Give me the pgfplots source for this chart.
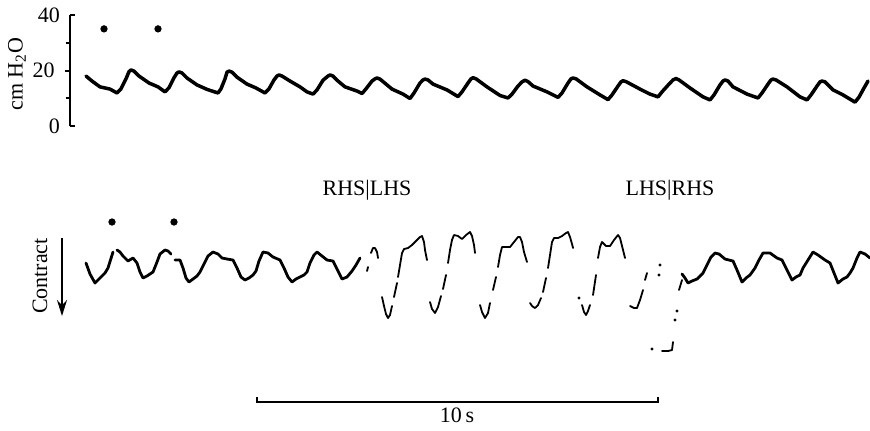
\documentclass[border=0pt]{standalone}
\usepackage{pgfplots}
\pgfplotsset{compat=1.18}
\usepackage{fontspec}
\setmainfont{Liberation Serif}
\usetikzlibrary{arrows.meta}

\begin{document}
\begin{tikzpicture}
\useasboundingbox (0,0) rectangle (435pt,215pt);
\pgfplotsset{
  trace/.style={black, line join=round, line cap=round},
  slow/.style={trace, line width=1.4pt},
  fast/.style={trace, line width=0.9pt},
}

% Sheet for the muscle trace, the time bar and the annotations
\begin{axis}[at={(0,0)}, anchor=south west, scale only axis,
  width=435pt, height=215pt, xmin=0, xmax=870, ymin=0, ymax=430,
  y dir=reverse, hide axis, clip=false, unbounded coords=jump,
  font=\fontsize{11}{13}\selectfont]

% slow, well-inked stretches of the contraction record
\addplot[slow] coordinates {
 (86,263) (90,274) (95,283) (100,278) (105,273) (108,268) (113,252)
 (nan,nan)
 (117,250) (120,252) (123,256) (128,261) (133,258) (137,263) (140,272) (143,278)
 (147,276) (150,274) (153,272) (157,262) (160,254) (165,250) (168,251) (171,254)
 (nan,nan)
 (175,260) (180,260) (183,268) (186,278) (189,282) (193,279) (197,276) (200,272)
 (204,264) (208,256) (213,252) (218,254) (222,258) (227,259) (233,260) (237,268)
 (241,277) (245,280) (249,278) (253,275) (256,271) (259,261) (263,252) (268,253)
 (273,257) (280,260) (284,268) (288,277) (292,282) (296,279) (300,277) (304,275)
 (307,272) (310,263) (314,255) (317,252) (322,256) (327,260) (333,261) (337,269)
 (342,279) (347,277) (352,271) (356,265) (360,258)
 (nan,nan)
 (682,274) (685,278) (688,283) (692,281) (697,279) (703,273) (707,265) (711,257)
 (715,253) (719,254) (725,259) (733,261) (737,270) (742,282) (746,278) (750,275)
 (755,268) (759,260) (763,253) (770,253) (777,258) (782,260) (787,270) (792,280)
 (796,277) (800,275) (803,268) (808,260) (813,252) (818,255) (825,260) (830,263)
 (834,273) (838,283) (843,279) (847,277) (850,273) (853,268) (857,258) (860,252)
 (865,254) (870,258)
};

% fast swings: the pen only inks the slower parts
\addplot[fast] coordinates {
 (367,271) (368,267) (nan,nan)
 (371,253) (373,248) (375,248) (377,252) (378,258)
 (nan,nan)
 (382,297) (384,306) (386,314) (388,318) (390,315) (392,306) (nan,nan)
 (394,297) (397,283) (nan,nan)
 (398,277) (400,265) (402,253) (404,249) (408,248) (412,245) (416,241) (420,237)
 (422,236) (424,242) (425,250) (427,260)
 (nan,nan)
 (430,302) (432,309) (435,313) (438,307) (441,296) (nan,nan)
 (443,289) (446,275) (nan,nan)
 (448,263) (450,250) (452,240) (454,235) (458,236) (462,239) (466,235) (470,232)
 (472,236) (474,245) (475,253)
 (nan,nan)
 (480,305) (482,312) (485,318) (488,313) (490,303) (nan,nan)
 (493,290) (496,277) (nan,nan)
 (498,267) (500,255) (502,247) (506,247) (510,247) (514,242) (518,237) (520,237)
 (522,242) (524,252) (527,262)
 (nan,nan)
 (530,303) (532,306) (535,308) (538,305) (541,298) (nan,nan)
 (543,292) (546,278) (nan,nan)
 (548,268) (550,255) (552,242) (554,238) (558,238) (562,236) (566,233) (568,232)
 (570,237) (572,244) (573,248)
 (nan,nan)
 (582,305) (584,312) (586,315) (588,311) (590,305) (nan,nan)
 (593,295) (596,275) (nan,nan)
 (598,258) (600,247) (602,242) (606,246) (610,246) (614,240) (618,235) (620,238)
 (622,246) (624,254) (625,258)
 (nan,nan)
 (630,306) (634,308) (637,308) (640,300) (643,290) (nan,nan)
 (645,280) (647,273)
 (nan,nan)
 (662,351) (668,351) (672,350) (673,342)
 (nan,nan)
 (679,290) (682,280)
};

% isolated ink dots
\addplot[only marks, mark=*, mark size=0.55pt, black] coordinates {
 (579,298) (660,265) (659,275) (652,349) (675,320) (677,311)
};

% stimulus markers
\addplot[only marks, mark=*, mark size=1.6pt, black] coordinates {
 (112,222) (174,222)
};

% 10 s time bar
\addplot[black, line width=1.1pt] coordinates {
 (257,397) (257,402) (658,402) (658,397)
};

\node[rotate=90] at (axis cs:40,276) {Contract};
\draw[black, line width=1pt, -{Stealth[length=8pt,width=5pt]}]
  (axis cs:62,238) -- (axis cs:62,316);
\node at (axis cs:367,190) {RHS|LHS};
\node at (axis cs:670,190) {LHS|RHS};
\node at (axis cs:457,415) {10\,s};
\node[rotate=90] at (axis cs:17,74) {cm H\textsubscript{2}O};
\end{axis}

% Airway pressure record
\begin{axis}[at={(35pt,152pt)}, anchor=south west, scale only axis,
  width=400pt, height=55.5pt, xmin=70, xmax=870, ymin=0, ymax=40,
  axis x line=none, axis y line*=left, clip=false,
  axis line style={line width=1.2pt},
  ytick={20}, minor ytick={10,30},
  extra y ticks={0,40},
  extra y tick style={tick align=inside},
  tick align=outside,
  major tick length=2.6pt, minor tick length=2.2pt,
  every tick/.style={black, line width=1pt},
  tick label style={font=\fontsize{11}{13}\selectfont},
  yticklabel style={xshift=-1.5pt},
  /pgf/number format/assume math mode=true]

\addplot[trace, line width=1.75pt] coordinates {
 (86,18.0) (92,16.2) (100,14.1) (110,13.3) (117,11.9)
 (121,13.4) (126,17.0) (129,19.6) (131,20.2) (134,19.8) (139,18.0) (149,15.5) (158,14.1) (165,12.3)
 (169,13.8) (174,17.4) (177,19.1) (179,19.5) (182,19.1) (187,17.3) (197,14.8) (207,13.2) (218,11.9)
 (221,13.4) (225,17.0) (227,19.4) (229,19.8) (232,19.4) (237,17.6) (247,15.1) (256,13.7) (265,11.9)
 (269,13.4) (274,16.6) (277,18.0) (279,18.4) (282,18.0) (290,16.2) (300,14.1) (307,12.3) (313,11.5)
 (317,13.0) (323,16.5) (328,18.0) (330,18.4) (333,18.0) (338,16.2) (345,14.1) (357,12.6) (362,11.7)
 (366,13.4) (372,16.2) (375,17.0) (377,17.3) (380,16.9) (386,15.1) (392,13.3) (403,11.5) (410,9.9)
 (414,11.9) (420,15.5) (423,16.6) (425,16.9) (428,16.6) (433,15.1) (447,13.0) (458,10.6)
 (462,12.3) (468,15.5) (471,17.0) (473,17.4) (476,17.0) (487,14.1) (500,11.0) (508,10.1)
 (512,11.5) (518,14.4) (522,15.9) (525,16.5) (528,16.0) (533,14.4) (547,12.3) (558,10.3)
 (562,11.9) (568,15.5) (571,17.0) (573,17.3) (576,17.0) (587,14.1) (600,11.2) (608,9.5)
 (612,11.2) (618,14.4) (621,15.9) (623,16.3) (626,16.0) (640,13.3) (650,11.5) (658,10.5)
 (662,12.3) (669,15.1) (673,16.6) (676,17.1) (679,16.6) (690,13.7) (703,10.5) (710,9.4)
 (714,11.2) (720,14.8) (723,16.2) (725,16.6) (728,16.2) (733,14.1) (747,11.5) (758,10.1)
 (762,11.9) (768,15.1) (771,16.6) (773,16.9) (776,16.6) (787,14.1) (800,10.5) (807,9.4)
 (811,11.2) (817,14.4) (820,15.9) (822,16.2) (825,15.9) (833,13.0) (843,11.2) (855,8.6)
 (859,10.4) (864,13.7) (868,16.2)
};

% stimulus markers
\addplot[only marks, mark=*, mark size=1.6pt, black] coordinates {
 (104,35.0) (158,35.0)
};
\end{axis}
\end{tikzpicture}
\end{document}
